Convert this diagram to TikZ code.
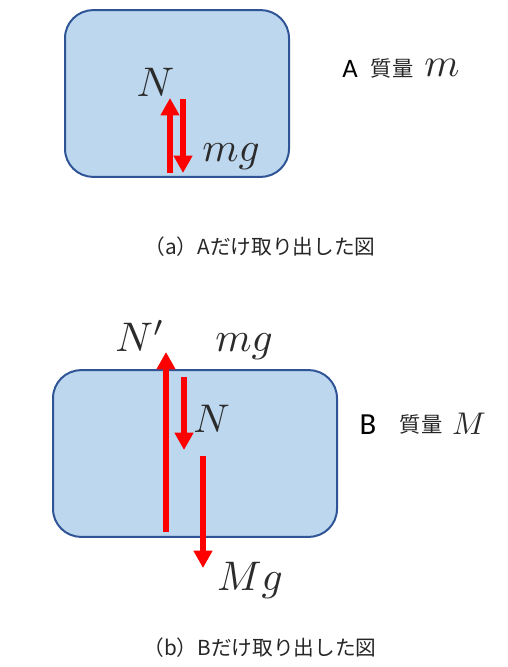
\documentclass[tikz,border=0pt]{standalone}
\usepackage{fontspec}
\usepackage{graphicx}
\usetikzlibrary{arrows.meta}
\newfontfamily\jpfont{Noto Sans CJK JP}
\newfontfamily\latfont{Carlito}
\definecolor{boxfill}{HTML}{BDD7EE}
\definecolor{boxedge}{HTML}{2F5597}
\definecolor{mathtxt}{HTML}{2B2B2B}
\newcommand{\bigmath}[2]{\scalebox{#1}{$#2$}}
\begin{document}
\begin{tikzpicture}[x=0.75pt,y=-0.75pt,
  body/.style={draw=boxedge, line width=1.5pt, fill=boxfill, rounded corners=21pt, inner sep=0pt},
  force/.style={draw=red, line width=4.2pt, -{Triangle[width=13.5pt,length=13pt]}},
  mlabel/.style={text=mathtxt, inner sep=0pt, anchor=base},
  jlabel/.style={inner sep=0pt, anchor=base, font=\jpfont\fontsize{16}{18}\selectfont, text=black!85},
  llabel/.style={inner sep=0pt, anchor=base, font=\latfont\fontsize{20}{22}\selectfont},
  caption/.style={inner sep=0pt, font=\jpfont\fontsize{15.5}{18}\selectfont, text=black!85}]
\useasboundingbox (0,0) rectangle (507,667);
% ---- box A ----
\node[body, minimum width=168pt, minimum height=125pt] (boxA) at (177,93.5) {};
\coordinate (NAs) at (170,173);
\coordinate (NAe) at (170,98);
\coordinate (mgAs) at (183,99);
\coordinate (mgAe) at (183,173);
\draw[force] (NAs) -- (NAe);
\draw[force] (mgAs) -- (mgAe);
\node[mlabel] (NA) at (155.5,97) {\bigmath{3.1}{N}};
\node[mlabel] (mgA) at (231,161) {\bigmath{3.1}{mg}};
\node[llabel] (labA) at (350,78) {A};
\node[jlabel] (qA) at (392,76.5) {質量};
\node[mlabel] (mA) at (442,77) {\bigmath{3.0}{m}};
\node[caption] (capA) at (260,247) {（a）Aだけ取り出した図};
% ---- box B ----
\node[body, minimum width=213pt, minimum height=125pt] (boxB) at (195,453.5) {};
\coordinate (NBs) at (166,532);
\coordinate (NBe) at (166,352);
\coordinate (mgBs) at (184,377);
\coordinate (mgBe) at (184,450);
\coordinate (MgBs) at (203,456);
\coordinate (MgBe) at (203,568);
\draw[force] (NBs) -- (NBe);
\draw[force] (mgBs) -- (mgBe);
\draw[force] (MgBs) -- (MgBe);
\node[mlabel] (NpB) at (140,351) {\bigmath{3.1}{N'}};
\node[mlabel] (mgB) at (244,351) {\bigmath{3.1}{mg}};
\node[mlabel] (NB) at (211.5,432) {\bigmath{3.0}{N}};
\node[mlabel] (MgB) at (250,590) {\bigmath{3.1}{Mg}};
\node[llabel, font=\latfont\fontsize{23}{26}\selectfont] (labB) at (368,434) {B};
\node[jlabel] (qB) at (421,432.5) {質量};
\node[mlabel] (MB) at (469,434) {\bigmath{2.35}{M}};
\node[caption] (capB) at (260,647.5) {（b）Bだけ取り出した図};
\end{tikzpicture}
\end{document}
